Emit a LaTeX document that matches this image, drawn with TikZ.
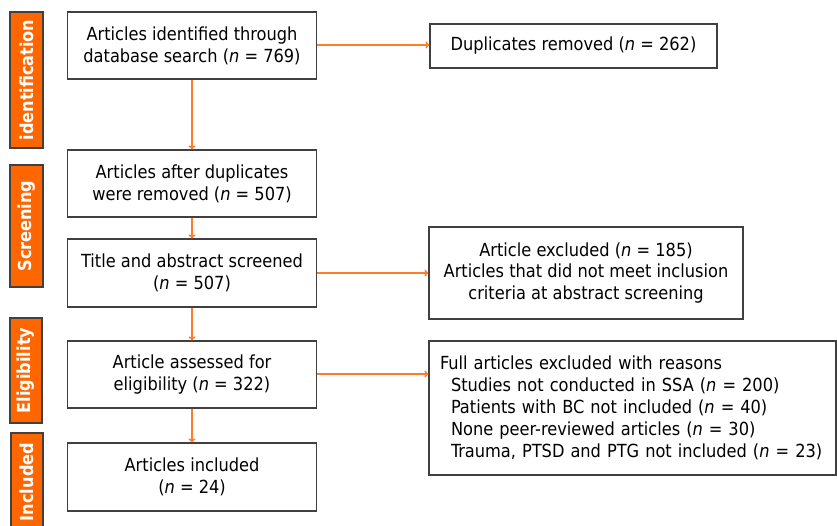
\documentclass[tikz,border=0pt]{standalone}
\usepackage{fontspec}
\setmainfont{DejaVu Sans Condensed}
\usetikzlibrary{arrows.meta}
\definecolor{barorange}{RGB}{255,102,0}
\definecolor{arroworange}{RGB}{255,125,40}
\definecolor{boxgray}{RGB}{64,64,64}
\tikzset{
  flowbox/.style={draw=boxgray,line width=1.2bp,inner sep=0pt,align=center,font=\fontsize{18.1}{22}\selectfont},
  stagebar/.style={draw=boxgray,line width=1.2bp,fill=barorange},
  stagetext/.style={text=white,font=\fontsize{18}{20}\selectfont\bfseries,rotate=90},
  flowarrow/.style={draw=arroworange,line width=1.6bp,-{To[length=4bp,width=7bp]}}
}
\begin{document}
\begin{tikzpicture}[x=1bp,y=-1bp]
\clip (0,0) rectangle (837,526);
\fill[white] (0,0) rectangle (837,526);
% stage bars
\draw[stagebar] (10,12) rectangle (43,148);
\node[stagetext] (tid) at (26.5,80) {identification};
\draw[stagebar] (10,165) rectangle (43,287);
\node[stagetext] (tsc) at (26.5,226) {Screening};
\draw[stagebar] (10,318) rectangle (42,423);
\node[stagetext] (tel) at (26,370.5) {Eligibility};
\draw[stagebar] (11,433) rectangle (43,540);
\node[stagetext] (tin) at (27,482) {Included};
% left column
\node[flowbox,minimum width=249bp,minimum height=67bp] (b1) at (192,45.5) {Articles identified through\\database search (\textit{n} = 769)};
\node[flowbox,minimum width=249bp,minimum height=67bp] (b2) at (192,183.5) {Articles after duplicates\\were removed (\textit{n} = 507)};
\node[flowbox,minimum width=249bp,minimum height=68bp] (b3) at (192,273) {Title and abstract screened\\(\textit{n} = 507)};
\node[flowbox,minimum width=249bp,minimum height=67bp] (b4) at (192,374.5) {Article assessed for\\eligibility (\textit{n} = 322)};
\node[flowbox,minimum width=249bp,minimum height=68bp] (b5) at (192,477) {Articles included\\(\textit{n} = 24)};
% right column
\node[flowbox,minimum width=287bp,minimum height=44bp] (dup) at (573.5,46) {Duplicates removed (\textit{n} = 262)};
\node[flowbox,minimum width=314bp,minimum height=92bp] (exc) at (586,273) {Article excluded (\textit{n} = 185)\\Articles that did not meet inclusion\\criteria at abstract screening};
\node[flowbox,align=left,inner xsep=11bp,text width=385bp,minimum height=134bp] (full) at (632.5,408) {Full articles excluded with reasons\\
\hspace*{11bp}Studies not conducted in SSA (\textit{n} = 200)\\
\hspace*{11bp}Patients with BC not included (\textit{n} = 40)\\
\hspace*{11bp}None peer-reviewed articles (\textit{n} = 30)\\
\hspace*{11bp}Trauma, PTSD and PTG not included (\textit{n} = 23)};
% arrows
\draw[flowarrow] (b1.south) -- (b2.north);
\draw[flowarrow] (b2.south) -- (b3.north);
\draw[flowarrow] (b3.south) -- (b4.north);
\draw[flowarrow] (b4.south) -- (b5.north);
\draw[flowarrow] ([yshift=0.5bp]b1.east) -- ([yshift=0.5bp]b1.east -| dup.west);
\draw[flowarrow] (b3.east) -- (b3.east -| exc.west);
\draw[flowarrow] ([yshift=0.5bp]b4.east) -- ([yshift=0.5bp]b4.east -| full.west);
\end{tikzpicture}
\end{document}
